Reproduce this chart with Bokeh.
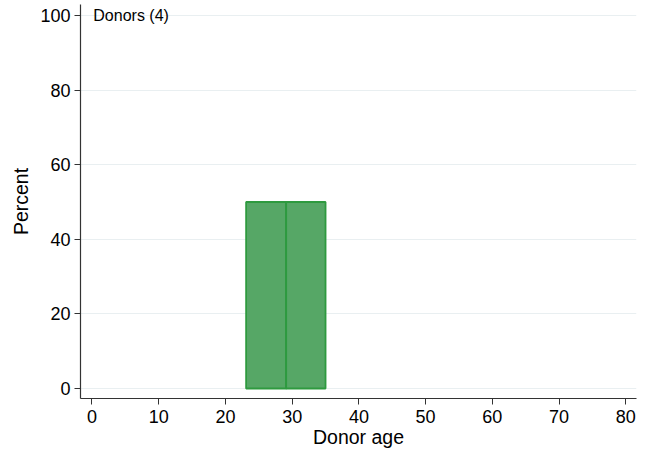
from bokeh.plotting import figure
from bokeh.models import Range1d, Label, FixedTicker
from bokeh.embed import file_html
from bokeh.resources import INLINE

bin_left = [23.1, 29.1]
bin_right = [29.1, 35.0]
percent = [50, 50]
x_ticks = [0, 10, 20, 30, 40, 50, 60, 70, 80]
y_ticks = [0, 20, 40, 60, 80, 100]

FONT = "Liberation Sans"

p = figure(width=646, height=453, output_backend="svg", toolbar_location=None,
           x_range=Range1d(-1.72, 81.6), y_range=Range1d(-2.68, 102.95),
           min_border_top=4, min_border_left=80, min_border_right=10, min_border_bottom=55)
p.outline_line_color = None
p.background_fill_color = "white"

p.quad(left=bin_left, right=bin_right, bottom=0, top=percent,
       fill_color="#56a766", line_color="#2e9a3f", line_width=1.8)

p.xgrid.visible = False
p.ygrid.grid_line_color = "#e9eff1"
p.ygrid.grid_line_width = 1

for ax in (p.xaxis[0], p.yaxis[0]):
    ax.axis_line_color = "#333333"
    ax.axis_line_width = 1.2
    ax.major_tick_line_color = "#333333"
    ax.major_tick_out = 6
    ax.major_tick_in = 0
    ax.minor_tick_line_color = None
    ax.major_label_text_font = FONT
    ax.major_label_text_font_size = "18px"
    ax.major_label_text_color = "black"
    ax.axis_label_text_font = FONT
    ax.axis_label_text_font_size = "19.5px"
    ax.axis_label_text_font_style = "normal"
    ax.axis_label_text_color = "black"

p.xaxis.ticker = FixedTicker(ticks=x_ticks)
p.yaxis.ticker = FixedTicker(ticks=y_ticks)
p.xaxis.axis_label = "Donor age"
p.yaxis.axis_label = "Percent"
p.xaxis.major_label_standoff = 5
p.xaxis.axis_label_standoff = 0
p.yaxis.major_label_standoff = 4
p.yaxis.axis_label_standoff = 5
p.yaxis.major_label_orientation = "horizontal"

p.add_layout(Label(x=0.2, y=100, text="Donors (4)", text_font=FONT,
                   text_font_size="16px", text_baseline="middle", text_align="left",
                   text_color="black"))

open("out.html", "w").write(file_html(p, INLINE))
